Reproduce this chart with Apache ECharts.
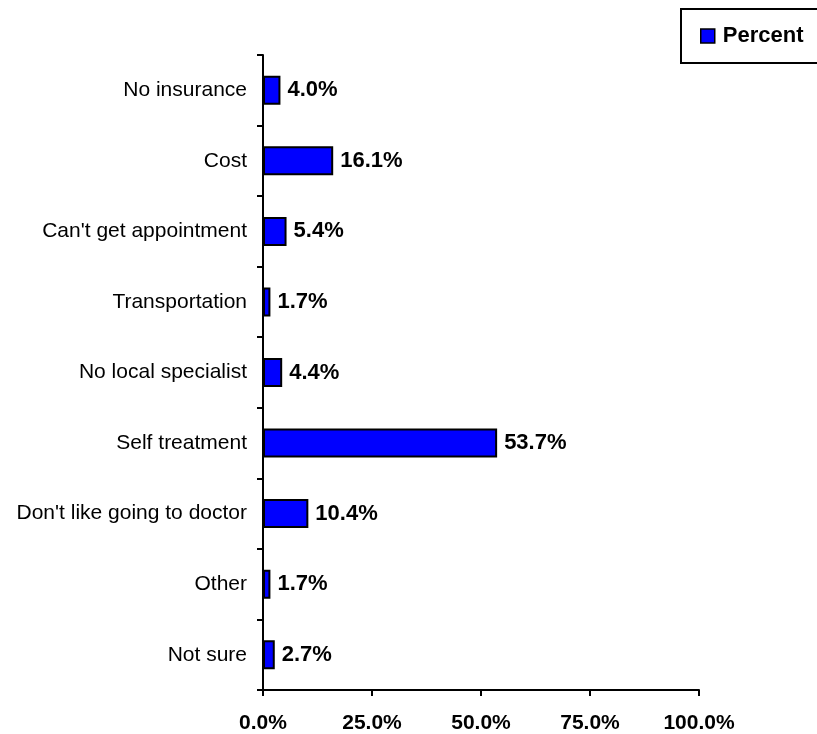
<!DOCTYPE html>
<html><head><meta charset="utf-8">
<script src="https://cdn.jsdelivr.net/npm/echarts@6/dist/echarts.min.js"></script>
<style>html,body{margin:0;padding:0;background:#fff}#c{width:817px;height:734px}</style>
</head><body><div id="c"></div>
<script>
const categories = ["No insurance","Cost","Can't get appointment","Transportation","No local specialist","Self treatment","Don't like going to doctor","Other","Not sure"];
const percentValues = [4.0,16.1,5.4,1.7,4.4,53.7,10.4,1.7,2.7];
const xTicks = [0,25,50,75,100];
const FONT = "'Liberation Sans', Arial, sans-serif";
const chart = echarts.init(document.getElementById('c'));
chart.setOption({
  animation:false,
  backgroundColor:'#fff',
  legend:{
    left:681, top:9,
    data:['Percent'],
    icon:'rect', itemWidth:14, itemHeight:14,
    padding:[16,40,16,19],
    borderColor:'#000', borderWidth:2,
    itemStyle:{borderColor:'#000', borderWidth:1.5},
    textStyle:{fontFamily:FONT, fontWeight:'bold', fontSize:22, lineHeight:22, color:'#000', padding:[0,0,0,3]}
  },
  grid:{left:263, right:118, top:55, bottom:44},
  xAxis:{
    type:'value', min:0, max:100, interval:25,
    axisLine:{show:true, lineStyle:{color:'#000', width:2}},
    axisTick:{show:true, length:6, lineStyle:{color:'#000', width:2}},
    splitLine:{show:false},
    axisLabel:{formatter:v=>v.toFixed(1)+'%', fontFamily:FONT, fontWeight:'bold', fontSize:21, color:'#000', margin:23}
  },
  yAxis:{
    type:'category', inverse:true, data:categories,
    axisLine:{show:true, lineStyle:{color:'#000', width:2}},
    axisTick:{show:true, length:6, lineStyle:{color:'#000', width:2}},
    axisLabel:{fontFamily:FONT, fontSize:21, color:'#000', margin:16}
  },
  series:[{
    name:'Percent', type:'bar', data:percentValues, barWidth:29,
    itemStyle:{color:'#0000ff', borderColor:'#000', borderWidth:2},
    label:{show:true, position:'right', distance:7, formatter:p=>p.value.toFixed(1)+'%', fontFamily:FONT, fontWeight:'bold', fontSize:22, color:'#000'}
  }]
});
</script></body></html>
